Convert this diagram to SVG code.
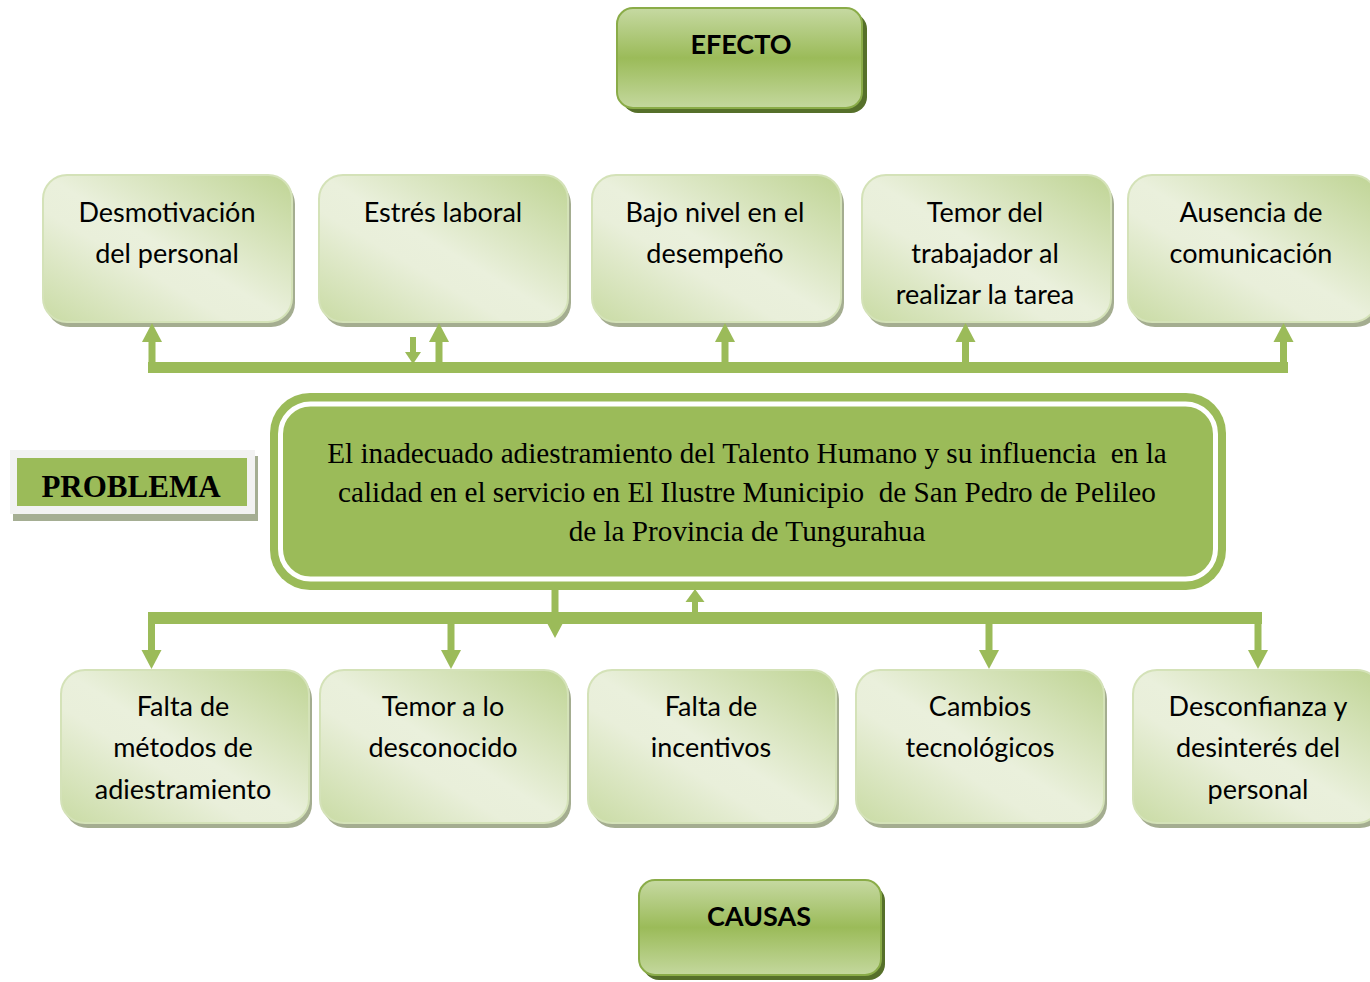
<svg xmlns="http://www.w3.org/2000/svg" width="1370" height="982" viewBox="0 0 1370 982">
<defs>
<linearGradient id="gBox" x1="1" y1="0" x2="0" y2="1">
<stop offset="0" stop-color="#bfd494"/>
<stop offset="0.5" stop-color="#eaf0dc"/>
<stop offset="0.62" stop-color="#e9efda"/>
<stop offset="1" stop-color="#c9dba4"/>
</linearGradient>
<linearGradient id="gHead" x1="0" y1="0" x2="0" y2="1">
<stop offset="0" stop-color="#c6d9a2"/>
<stop offset="0.5" stop-color="#9bbb59"/>
<stop offset="1" stop-color="#c4d89e"/>
</linearGradient>
<style>
.box{fill:url(#gBox);stroke:#d4e2b8;stroke-width:2}
.bsh{fill:#a4ad90}
.head{fill:url(#gHead);stroke:#8aac48;stroke-width:2}
.hsh{fill:#56702a}
.t{font-family:Lato,"Liberation Sans",sans-serif;font-size:27px;fill:#000;text-anchor:middle}
.th{font-family:Lato,"Liberation Sans",sans-serif;font-size:27px;font-weight:bold;fill:#000;text-anchor:middle}
.ts{font-family:"Liberation Serif","Times New Roman",serif;font-size:29.2px;fill:#000;text-anchor:middle;white-space:pre}
.g{fill:#9bbb59}
</style>
</defs>
<rect width="1370" height="982" fill="#ffffff"/>

<g id="efecto">
<rect class="hsh" x="622" y="13" width="245" height="100" rx="16"/>
<rect class="head" x="617" y="8" width="245" height="100" rx="16"/>
<text class="th" x="741" y="54">EFECTO</text>
</g>

<g id="e1">
<rect class="bsh" x="46" y="180" width="249" height="147" rx="24"/>
<rect class="box" x="43" y="175" width="249" height="147" rx="24"/>
<text class="t" x="167" y="222">Desmotivación</text>
<text class="t" x="167" y="263">del personal</text>
</g>
<g id="e2">
<rect class="bsh" x="322" y="180" width="249" height="147" rx="24"/>
<rect class="box" x="319" y="175" width="249" height="147" rx="24"/>
<text class="t" x="443" y="222">Estrés laboral</text>
</g>
<g id="e3">
<rect class="bsh" x="595" y="180" width="249" height="147" rx="24"/>
<rect class="box" x="592" y="175" width="249" height="147" rx="24"/>
<text class="t" x="715" y="222">Bajo nivel en el</text>
<text class="t" x="715" y="263">desempeño</text>
</g>
<g id="e4">
<rect class="bsh" x="865" y="180" width="249" height="147" rx="24"/>
<rect class="box" x="862" y="175" width="249" height="147" rx="24"/>
<text class="t" x="985" y="222">Temor del</text>
<text class="t" x="985" y="263">trabajador al</text>
<text class="t" x="985" y="304">realizar la tarea</text>
</g>
<g id="e5">
<rect class="bsh" x="1131" y="180" width="249" height="147" rx="24"/>
<rect class="box" x="1128" y="175" width="249" height="147" rx="24"/>
<text class="t" x="1251" y="222">Ausencia de</text>
<text class="t" x="1251" y="263">comunicación</text>
</g>

<g id="problema-label">
<rect x="13" y="456" width="245" height="65" fill="#a5ae93"/>
<rect x="10" y="450" width="245" height="64" fill="#f2f2f2"/>
<rect x="17" y="458" width="230" height="48" fill="#9bbb59"/>
<text x="131" y="497" font-family="'Liberation Serif','Times New Roman',serif" font-size="31" font-weight="bold" fill="#000" text-anchor="middle">PROBLEMA</text>
</g>

<g id="problema">
<rect x="270" y="393" width="956" height="197" rx="40" fill="#9bbb59"/>
<rect x="280.5" y="404" width="935" height="175" rx="30" fill="none" stroke="#ffffff" stroke-width="5"/>
<text class="ts" x="747" y="463" xml:space="preserve">El inadecuado adiestramiento del Talento Humano y su influencia  en la</text>
<text class="ts" x="747" y="502" xml:space="preserve">calidad en el servicio en El Ilustre Municipio  de San Pedro de Pelileo</text>
<text class="ts" x="747" y="541">de la Provincia de Tungurahua</text>
</g>

<g id="connectors" class="g">
<rect x="148" y="362" width="1140" height="11"/>
<rect x="148.5" y="340" width="7" height="23"/>
<polygon points="142,342 162,342 152,323"/>
<rect x="435.5" y="340" width="7" height="23"/>
<polygon points="429,342 449,342 439,323"/>
<rect x="721.5" y="340" width="7" height="23"/>
<polygon points="715,342 735,342 725,323"/>
<rect x="962" y="340" width="7" height="23"/>
<polygon points="955.5,342 975.5,342 965.5,323"/>
<rect x="1280" y="340" width="7" height="23"/>
<polygon points="1273.5,342 1293.5,342 1283.5,323"/>
<rect x="410" y="337" width="6" height="16"/>
<polygon points="405,352 421,352 413,364"/>

<rect x="148" y="612" width="1114" height="12"/>
<rect x="551.5" y="588" width="7" height="37"/>
<polygon points="547,623 563,623 555,638"/>
<rect x="692" y="600" width="6" height="13"/>
<polygon points="685.5,602 704.5,602 695,589"/>
<rect x="148" y="623" width="7" height="29"/>
<polygon points="141.5,650 161.5,650 151.5,669"/>
<rect x="447.5" y="623" width="7" height="29"/>
<polygon points="441,650 461,650 451,669"/>
<rect x="985.5" y="623" width="7" height="29"/>
<polygon points="979,650 999,650 989,669"/>
<rect x="1254.5" y="623" width="7" height="29"/>
<polygon points="1248,650 1268,650 1258,669"/>
</g>

<g id="c1">
<rect class="bsh" x="64" y="675" width="248" height="153" rx="24"/>
<rect class="box" x="61" y="670" width="248" height="153" rx="24"/>
<text class="t" x="183" y="716">Falta de</text>
<text class="t" x="183" y="757">métodos de</text>
<text class="t" x="183" y="799">adiestramiento</text>
</g>
<g id="c2">
<rect class="bsh" x="323" y="675" width="248" height="153" rx="24"/>
<rect class="box" x="320" y="670" width="248" height="153" rx="24"/>
<text class="t" x="443" y="716">Temor a lo</text>
<text class="t" x="443" y="757">desconocido</text>
</g>
<g id="c3">
<rect class="bsh" x="591" y="675" width="248" height="153" rx="24"/>
<rect class="box" x="588" y="670" width="248" height="153" rx="24"/>
<text class="t" x="711" y="716">Falta de</text>
<text class="t" x="711" y="757">incentivos</text>
</g>
<g id="c4">
<rect class="bsh" x="859" y="675" width="248" height="153" rx="24"/>
<rect class="box" x="856" y="670" width="248" height="153" rx="24"/>
<text class="t" x="980" y="716">Cambios</text>
<text class="t" x="980" y="757">tecnológicos</text>
</g>
<g id="c5">
<rect class="bsh" x="1136" y="675" width="248" height="153" rx="24"/>
<rect class="box" x="1133" y="670" width="248" height="153" rx="24"/>
<text class="t" x="1258" y="716">Desconfianza y</text>
<text class="t" x="1258" y="757">desinterés del</text>
<text class="t" x="1258" y="799">personal</text>
</g>

<g id="causas">
<rect class="hsh" x="643" y="885" width="242" height="95" rx="16"/>
<rect class="head" x="639" y="880" width="242" height="95" rx="16"/>
<text class="th" x="759" y="926">CAUSAS</text>
</g>
</svg>
